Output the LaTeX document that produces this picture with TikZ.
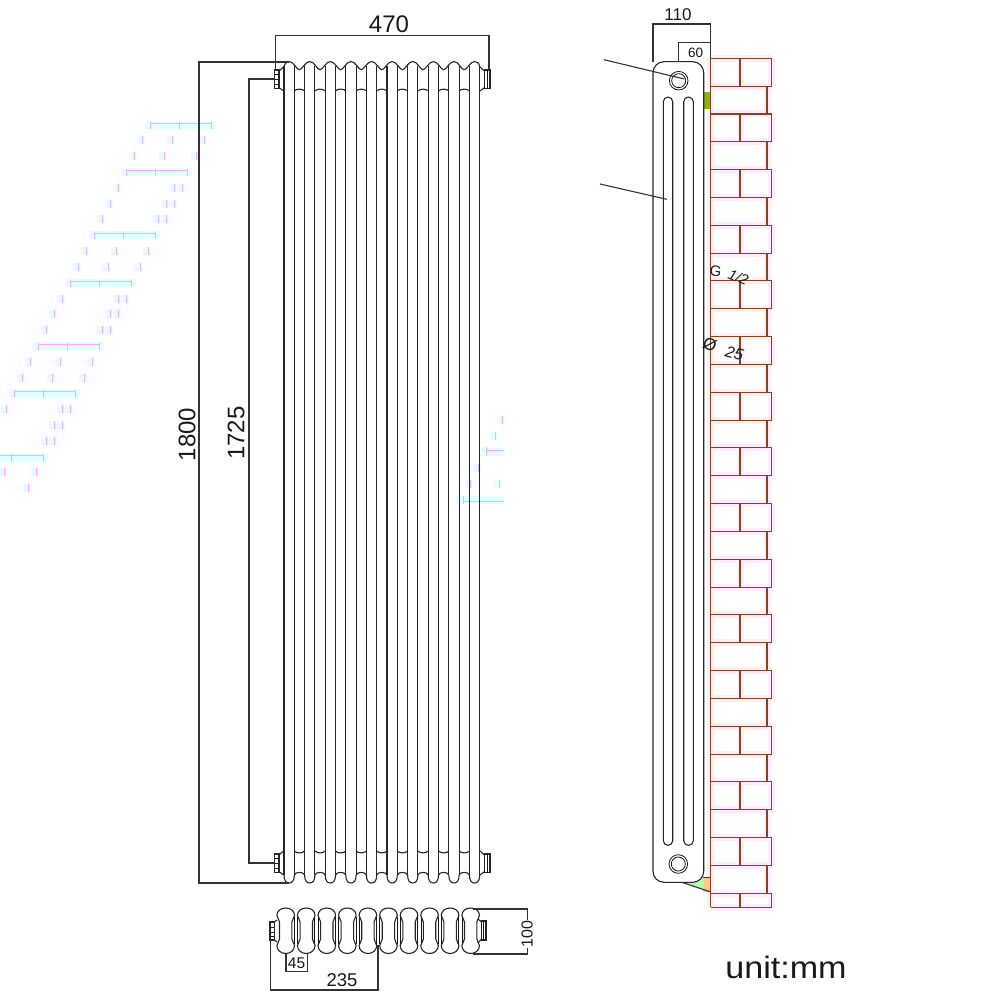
\documentclass[tikz,border=0pt]{standalone}
\usepackage{fontspec}
\setmainfont{Liberation Sans}
\definecolor{brick}{rgb}{0.50,0.28,0.12}
\definecolor{brickhalo}{rgb}{1,0.92,0.98}
\definecolor{ghostcyan}{rgb}{0.88,1,1}
\definecolor{ghostpink}{rgb}{1,0.66,1}
\definecolor{bracket}{rgb}{0.55,0.70,0.05}
\tikzset{rad/.style = {line width=1.1pt,black!85}}
\tikzset{thinrad/.style = {line width=0.8pt,black!90}}
\tikzset{dim/.style = {line width=1.1pt,black!80}}
\tikzset{dimtext/.style = {inner sep=0pt,text=black!90}}
\newcommand{\ghosttick}[2]{
	\fill [ghostcyan] (#1-5,#2-4) rectangle (#1+2,#2+4);
	\fill [ghostpink] (#1-0.5,#2-4) rectangle (#1+0.5,#2+4);
}
\begin{document}
\begin{tikzpicture}[x=1pt,y=-1pt]
	\useasboundingbox (0,0) rectangle (1000,1000);
	% ghost marks, left stair
	\begin{scope}
		\clip (0,100) rectangle (220,510);
		\foreach \k in {0,...,23} {
			\pgfmathsetmacro{\rowy}{124.7+15.8*\k}
			\pgfmathsetmacro{\rowx}{150-8*\k}
			\pgfmathtruncatemacro{\kind}{mod(\k,7)}
			\ifnum\kind=0
				\fill [ghostcyan] (\rowx-5,\rowy-4) rectangle (\rowx+66,\rowy+4);
				\draw [ghostpink,line width=0.9pt] (\rowx,\rowy-1.5) -- (\rowx+61.5,\rowy-1.5);
				\foreach \d in {0,29,61.5} {\fill [ghostpink] (\rowx+\d-0.5,\rowy-3) rectangle (\rowx+\d+0.5,\rowy+4);}
			\else\ifnum\kind=3
				\fill [ghostcyan] (\rowx-5,\rowy-4) rectangle (\rowx+66,\rowy+4);
				\draw [ghostpink,line width=0.9pt] (\rowx,\rowy-1.5) -- (\rowx+61.5,\rowy-1.5);
				\foreach \d in {0,29,61.5} {\fill [ghostpink] (\rowx+\d-0.5,\rowy-3) rectangle (\rowx+\d+0.5,\rowy+4);}
			\else\ifnum\kind<3
				\foreach \d in {0,30,62} {\ghosttick{\rowx+\d}{\rowy}}
			\else
				\ghosttick{\rowx}{\rowy}
				\ghosttick{\rowx+56}{\rowy}
				\ghosttick{\rowx+64}{\rowy}
			\fi\fi\fi
		}
	\end{scope}
	% ghost marks, right of the radiator
	\begin{scope}
		\clip (455,410) rectangle (504,510);
		\ghosttick{502}{420}
		\ghosttick{495}{436}
		\ghosttick{478}{468}
		\ghosttick{470}{484}
		\ghosttick{499}{484}
		\fill [ghostcyan] (482,448) rectangle (504,456);
		\fill [ghostpink] (486,447) rectangle (487,456);
		\draw [ghostpink,line width=0.9pt] (486,450) -- (504,450);
		\fill [ghostcyan] (456,496) rectangle (504,504);
		\fill [ghostpink] (462.5,496) rectangle (463.5,504);
		\draw [ghostpink,line width=0.9pt] (463,501) -- (504,501);
	\end{scope}
	% front view
	\begin{scope}[rad]
		\foreach \i in {0,...,9} {
			\pgfmathsetmacro{\lft}{284+20.6*\i}
			\pgfmathsetmacro{\rgt}{\lft+10.3}
			\pgfmathsetmacro{\mid}{\lft+5.15}
			\draw (\lft,66.5) -- (\lft,875);
			\draw (\rgt,66.5) -- (\rgt,875);
			\draw (\lft,875) .. controls (\lft,880.5) and (\lft+2,883) .. (\mid,883) .. controls (\rgt-2,883) and (\rgt,880.5) .. (\rgt,875);
			\ifnum\i<9
				\draw (\mid,61.5) .. controls (\mid+4.5,61.5) and (\rgt+2.5,69.8) .. (\rgt+5.15,69.8);
				\draw (\rgt+5.15,69.8) .. controls (\rgt+7.8,69.8) and (\rgt+10.3+5.15-4.5,61.5) .. (\rgt+10.3+5.15,61.5);
				\draw (\rgt,875) .. controls (\rgt+1,871.5) and (\rgt+9.3,871.5) .. (\rgt+10.3,875);
				\draw (\rgt,91) .. controls (\rgt+2,88.5) and (\rgt+8.3,88.5) .. (\rgt+10.3,91);
				\draw (\rgt,851) .. controls (\rgt+2,853.5) and (\rgt+8.3,853.5) .. (\rgt+10.3,851);
			\fi
		}
		\draw (284,66.5) .. controls (285,63) and (287,61.5) .. (289.15,61.5);
		\draw (474.55,61.5) .. controls (477,61.5) and (479,63) .. (479.7,66.5);
		% valves
		\foreach \top in {70,854} {
			\draw (274.3,\top) rectangle (279,\top+18.5);
			\draw (279,\top+1) -- (283.6,\top-3) (279,\top+17.5) -- (283.6,\top+21);
			\draw [thinrad] (274.3,\top+4) -- (279,\top+4) (274.3,\top+9) -- (279,\top+9) (274.3,\top+14) -- (279,\top+14);
			\draw (484.5,\top) rectangle (490,\top+18.5);
			\draw (484.5,\top+1) -- (480,\top-3) (484.5,\top+17.5) -- (480,\top+21);
			\draw [thinrad] (487.2,\top) -- (487.2,\top+18.5);
		}
	\end{scope}
	% top view
	\begin{scope}[rad]
		\foreach \i in {0,...,9} {
			\pgfmathsetmacro{\cen}{285.7+20.55*\i}
			\draw (\cen,908) .. controls (\cen+5,908) and (\cen+8.8,911) .. (\cen+8.8,915.5)
				.. controls (\cen+8.8,918.5) and (\cen+6.2,918.5) .. (\cen+6.2,922) -- (\cen+6.2,939)
				.. controls (\cen+6.2,942.5) and (\cen+8.8,942.5) .. (\cen+8.8,945.5)
				.. controls (\cen+8.8,950) and (\cen+5,953.5) .. (\cen,953.5)
				.. controls (\cen-5,953.5) and (\cen-8.8,950) .. (\cen-8.8,945.5)
				.. controls (\cen-8.8,942.5) and (\cen-6.2,942.5) .. (\cen-6.2,939) -- (\cen-6.2,922)
				.. controls (\cen-6.2,918.5) and (\cen-8.8,918.5) .. (\cen-8.8,915.5)
				.. controls (\cen-8.8,911) and (\cen-5,908) .. cycle;
			\ifnum\i<9
				\draw [thinrad] (\cen+8.6,917) -- (\cen+8.6,944) (\cen+11.9,917) -- (\cen+11.9,944);
			\fi
		}
		\draw (270,922) rectangle (274.3,940);
		\draw (274.3,922) -- (277,920) (274.3,940) -- (277,942);
		\draw [thinrad] (270,927) -- (274.3,927) (270,932) -- (274.3,932) (270,936) -- (274.3,936);
		\draw (481.5,921) rectangle (486,940);
		\draw (481.5,922) -- (478,919) (481.5,939) -- (478,943);
		\draw [thinrad] (483.7,921) -- (483.7,940);
	\end{scope}
	% brick wall
	\foreach \layer/\wdt/\col in {0/7/brickhalo,1/1.1/brick} {
		\foreach \c in {0,...,30} {
			\pgfmathsetmacro{\ya}{58.3+27.83*\c}
			\pgfmathsetmacro{\yb}{\ya+27.83}
			\pgfmathtruncatemacro{\odd}{mod(\c,2)}
			\ifnum\c=30 \pgfmathsetmacro{\yb}{907.3}\fi
			\draw [\col,line width=\wdt pt,line cap=butt] (710.5,\ya) -- (771.5,\ya);
			\draw [\col,line width=\wdt pt] (710.5,\ya) -- (710.5,\yb);
			\ifnum\odd=0
				\draw [\col,line width=\wdt pt] (740,\ya) -- (740,\yb);
				\draw [\col,line width=\wdt pt] (771.5,\ya) -- (771.5,\yb);
			\else
				\draw [\col,line width=\wdt pt] (767,\ya) -- (767,\yb);
			\fi
		}
		\draw [\col,line width=\wdt pt] (710.5,907.3) -- (771.5,907.3);
	}
	% side view
	\fill [bracket] (703.7,91.7) rectangle (710,109);
	\fill [orange!45] (703,877.3) rectangle (710,891.7);
	\fill [green!30] (681.7,882.3) -- (698,882.3) -- (703.7,875) -- (703.7,888.7) -- cycle;
	\draw [red!80!black,line width=1pt] (703,877.3) -- (710,877.3);
	\begin{scope}[rad]
		\node [draw,rad,fill=white,rectangle,rounded corners=11pt,minimum width=50.7pt,minimum height=820.6pt,inner sep=0pt] (body) at (678.35,472) {};
		\node [draw,rad,rectangle,rounded corners=4.7pt,minimum width=9.4pt,minimum height=748.3pt,inner sep=0pt] (slotl) at (668,471.2) {};
		\node [draw,rad,rectangle,rounded corners=4.7pt,minimum width=9.6pt,minimum height=748.3pt,inner sep=0pt] (slotr) at (688.5,471.2) {};
		\node [draw,thinrad,circle,minimum size=18.6pt,inner sep=0pt] (holeta) at (678.7,80.7) {};
		\node [draw,thinrad,circle,minimum size=14pt,inner sep=0pt] (holetb) at (678.7,80.7) {};
		\node [draw,thinrad,circle,minimum size=18.6pt,inner sep=0pt] (holeba) at (678.3,864) {};
		\node [draw,thinrad,circle,minimum size=14pt,inner sep=0pt] (holebb) at (678.3,864) {};
	\end{scope}
	\draw [dim] (681.7,882.3) -- (710,891.7);
	% dimensions
	\coordinate (wa) at (275.5,70);
	\coordinate (wb) at (489,70);
	\coordinate (ha) at (289,62);
	\coordinate (hb) at (289,883);
	\coordinate (ca) at (275,79);
	\coordinate (cb) at (275,863);
	\coordinate (da) at (653,62);
	\coordinate (db) at (710.3,58);
	\coordinate (ea) at (678.3,62);
	\coordinate (fa) at (270.5,940);
	\coordinate (fb) at (378,945);
	\coordinate (ga) at (286,954);
	\coordinate (gb) at (307.3,954);
	\coordinate (ia) at (473,909);
	\coordinate (ib) at (473,954);
	\coordinate (la) at (604,59.7);
	\coordinate (lb) at (684.3,79);
	\coordinate (ma) at (600,184);
	\coordinate (mb) at (666.7,199.3);
	\draw [dim] (wa) -- (wa |- 0,35.7) -- (wb |- 0,35.7) -- (wb);
	\draw [dim] (ha) -- (199,62) -- (199,883) -- (hb);
	\draw [dim] (ca) -- (249,79) -- (249,863) -- (cb);
	\draw [dim] (da) -- (da |- 0,24) -- (db |- 0,24) -- (db);
	\draw [dim] (ea) -- (ea |- 0,42.7) -- (710.3,42.7);
	\draw [dim] (fa) -- (fa |- 0,990) -- (fb |- 0,990) -- (fb);
	\draw [dim] (ga) -- (ga |- 0,971.7) -- (gb |- 0,971.7) -- (gb);
	\draw [dim] (ia) -- (527.7,909) -- (527.7,954) -- (ib);
	\draw [dim] (la) -- (lb);
	\draw [dim] (ma) -- (mb);
	\begin{scope}[every node/.style={dimtext}]
		\node (wtxt) at (389,24) {\fontsize{24}{24}\selectfont 470};
		\node [rotate=90] (htxt) at (187,434.5) {\fontsize{24}{24}\selectfont 1800};
		\node [rotate=90] (ctxt) at (236,433) {\fontsize{24}{24}\selectfont 1725};
		\node (dtxt) at (678,15) {\fontsize{17}{17}\selectfont 110};
		\node (etxt) at (695.5,53) {\fontsize{13.5}{14}\selectfont 60};
		\node (ftxt) at (342,980) {\fontsize{18.5}{19}\selectfont 235};
		\node (gtxt) at (296.5,963) {\fontsize{15.5}{16}\selectfont 45};
		\node [rotate=90,fill=white,inner sep=1pt] (itxt) at (527,934) {\fontsize{16}{16}\selectfont 100};
		\node [xscale=1.1] (utxt) at (786,967) {\fontsize{31}{31}\selectfont unit:mm};
		\node [rotate=-8] (gsym) at (715.5,271) {\fontsize{15}{15}\selectfont G};
		\node [rotate=-22] (gval) at (738.5,277) {\fontsize{14.5}{15}\selectfont\itshape 1/2};
		\node [rotate=-22] (osym) at (710,345) {\fontsize{17}{17}\selectfont Ø};
		\node [rotate=-15] (oval) at (734.5,353) {\fontsize{16}{16}\selectfont\itshape 25};
	\end{scope}
\end{tikzpicture}
\end{document}
